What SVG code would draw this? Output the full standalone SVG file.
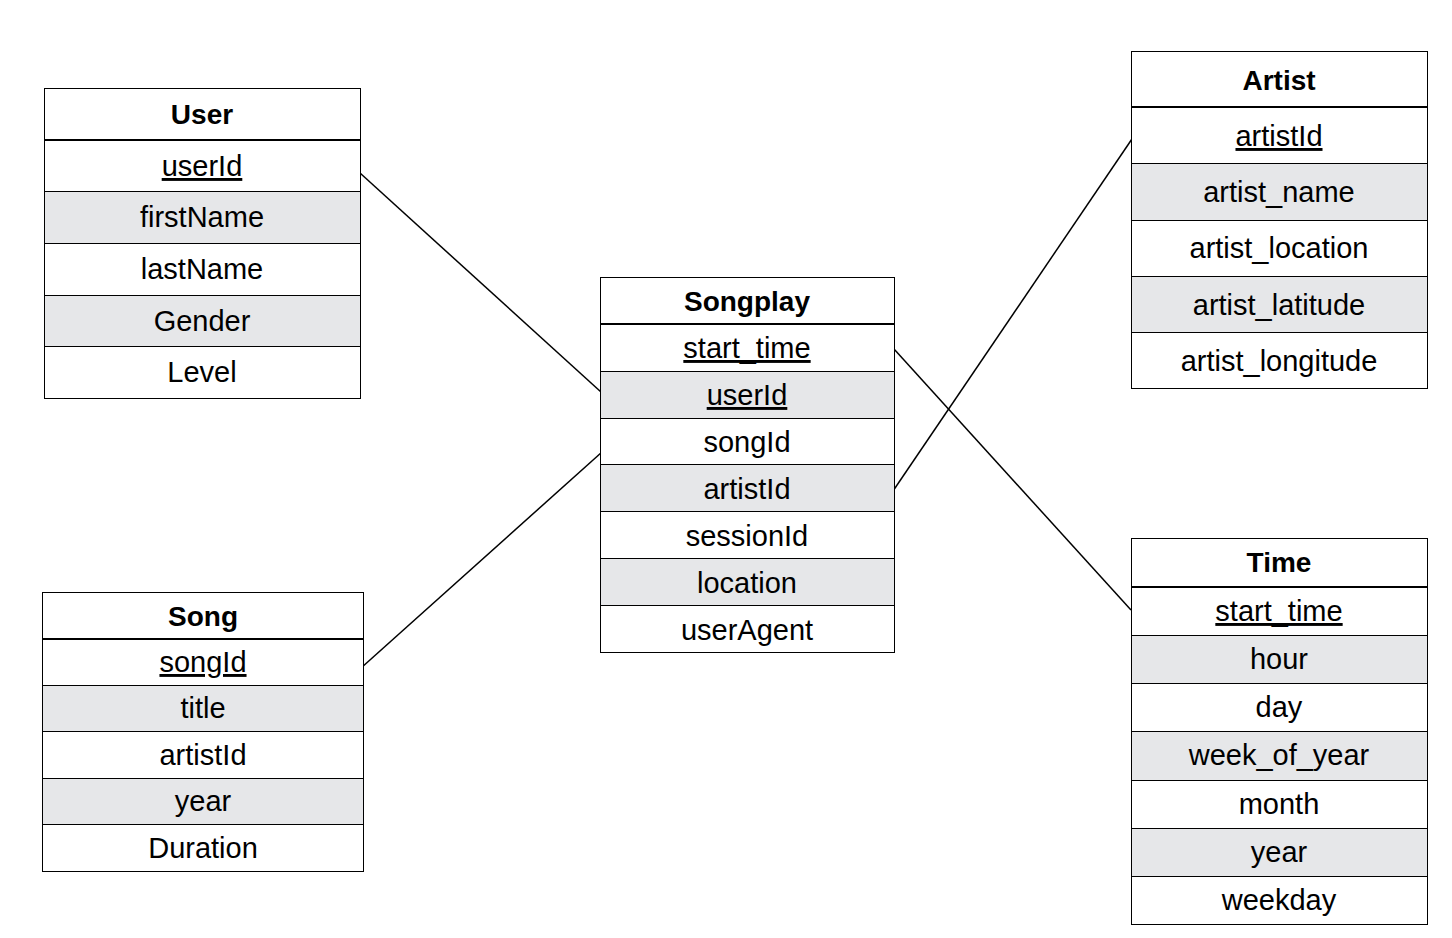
<svg xmlns="http://www.w3.org/2000/svg" width="1452" height="938" viewBox="0 0 1452 938">
<style>
.w{fill:#ffffff;stroke:#000;stroke-width:1}
.g{fill:#e6e7e9;stroke:#000;stroke-width:1}
.sep{stroke:#000;stroke-width:2}
.t{font-family:"Liberation Sans",Arial,sans-serif;font-size:29px;fill:#000;text-anchor:middle}
.h{font-family:"Liberation Sans",Arial,sans-serif;font-size:28px;font-weight:bold;fill:#000;text-anchor:middle}
.u{text-decoration:underline}
.c{stroke:#000;stroke-width:1.5;fill:none}
</style>
<rect width="1452" height="938" fill="#fff"/>
<g id="connectors">
<line class="c" x1="360" y1="173" x2="601" y2="392"/>
<line class="c" x1="361" y1="668" x2="602" y2="452"/>
<line class="c" x1="894" y1="349" x2="1131" y2="610"/>
<line class="c" x1="893" y1="491" x2="1134" y2="136"/>
</g>
<g id="user">
<rect class="w" x="44.5" y="88.5" width="316" height="52"/>
<rect class="w" x="44.5" y="140.5" width="316" height="51"/>
<rect class="g" x="44.5" y="191.5" width="316" height="52"/>
<rect class="w" x="44.5" y="243.5" width="316" height="52"/>
<rect class="g" x="44.5" y="295.5" width="316" height="51"/>
<rect class="w" x="44.5" y="346.5" width="316" height="52"/>
<line class="sep" x1="44" y1="140" x2="361" y2="140"/>
<text class="h" x="202" y="124">User</text>
<text class="t u" x="202" y="176">userId</text>
<text class="t" x="202" y="227">firstName</text>
<text class="t" x="202" y="279">lastName</text>
<text class="t" x="202" y="331">Gender</text>
<text class="t" x="202" y="382">Level</text>
</g>
<g id="song">
<rect class="w" x="42.5" y="592.5" width="321" height="47"/>
<rect class="w" x="42.5" y="639.5" width="321" height="46"/>
<rect class="g" x="42.5" y="685.5" width="321" height="46"/>
<rect class="w" x="42.5" y="731.5" width="321" height="47"/>
<rect class="g" x="42.5" y="778.5" width="321" height="46"/>
<rect class="w" x="42.5" y="824.5" width="321" height="47"/>
<line class="sep" x1="42" y1="639" x2="364" y2="639"/>
<text class="h" x="203" y="626">Song</text>
<text class="t u" x="203" y="672">songId</text>
<text class="t" x="203" y="718">title</text>
<text class="t" x="203" y="765">artistId</text>
<text class="t" x="203" y="811">year</text>
<text class="t" x="203" y="858">Duration</text>
</g>
<g id="songplay">
<rect class="w" x="600.5" y="277.5" width="294" height="47"/>
<rect class="w" x="600.5" y="324.5" width="294" height="47"/>
<rect class="g" x="600.5" y="371.5" width="294" height="47"/>
<rect class="w" x="600.5" y="418.5" width="294" height="46"/>
<rect class="g" x="600.5" y="464.5" width="294" height="47"/>
<rect class="w" x="600.5" y="511.5" width="294" height="47"/>
<rect class="g" x="600.5" y="558.5" width="294" height="47"/>
<rect class="w" x="600.5" y="605.5" width="294" height="47"/>
<line class="sep" x1="600" y1="324" x2="895" y2="324"/>
<text class="h" x="747" y="311">Songplay</text>
<text class="t u" x="747" y="358">start_time</text>
<text class="t u" x="747" y="405">userId</text>
<text class="t" x="747" y="452">songId</text>
<text class="t" x="747" y="499">artistId</text>
<text class="t" x="747" y="546">sessionId</text>
<text class="t" x="747" y="593">location</text>
<text class="t" x="747" y="640">userAgent</text>
</g>
<g id="artist">
<rect class="w" x="1131.5" y="51.5" width="296" height="56"/>
<rect class="w" x="1131.5" y="107.5" width="296" height="56"/>
<rect class="g" x="1131.5" y="163.5" width="296" height="57"/>
<rect class="w" x="1131.5" y="220.5" width="296" height="56"/>
<rect class="g" x="1131.5" y="276.5" width="296" height="56"/>
<rect class="w" x="1131.5" y="332.5" width="296" height="56"/>
<line class="sep" x1="1131" y1="107" x2="1428" y2="107"/>
<text class="h" x="1279" y="90">Artist</text>
<text class="t u" x="1279" y="146">artistId</text>
<text class="t" x="1279" y="202">artist_name</text>
<text class="t" x="1279" y="258">artist_location</text>
<text class="t" x="1279" y="315">artist_latitude</text>
<text class="t" x="1279" y="371">artist_longitude</text>
</g>
<g id="time">
<rect class="w" x="1131.5" y="538.5" width="296" height="49"/>
<rect class="w" x="1131.5" y="587.5" width="296" height="48"/>
<rect class="g" x="1131.5" y="635.5" width="296" height="48"/>
<rect class="w" x="1131.5" y="683.5" width="296" height="48"/>
<rect class="g" x="1131.5" y="731.5" width="296" height="49"/>
<rect class="w" x="1131.5" y="780.5" width="296" height="48"/>
<rect class="g" x="1131.5" y="828.5" width="296" height="48"/>
<rect class="w" x="1131.5" y="876.5" width="296" height="48"/>
<line class="sep" x1="1131" y1="587" x2="1428" y2="587"/>
<text class="h" x="1279" y="572">Time</text>
<text class="t u" x="1279" y="621">start_time</text>
<text class="t" x="1279" y="669">hour</text>
<text class="t" x="1279" y="717">day</text>
<text class="t" x="1279" y="765">week_of_year</text>
<text class="t" x="1279" y="814">month</text>
<text class="t" x="1279" y="862">year</text>
<text class="t" x="1279" y="910">weekday</text>
</g>
</svg>
